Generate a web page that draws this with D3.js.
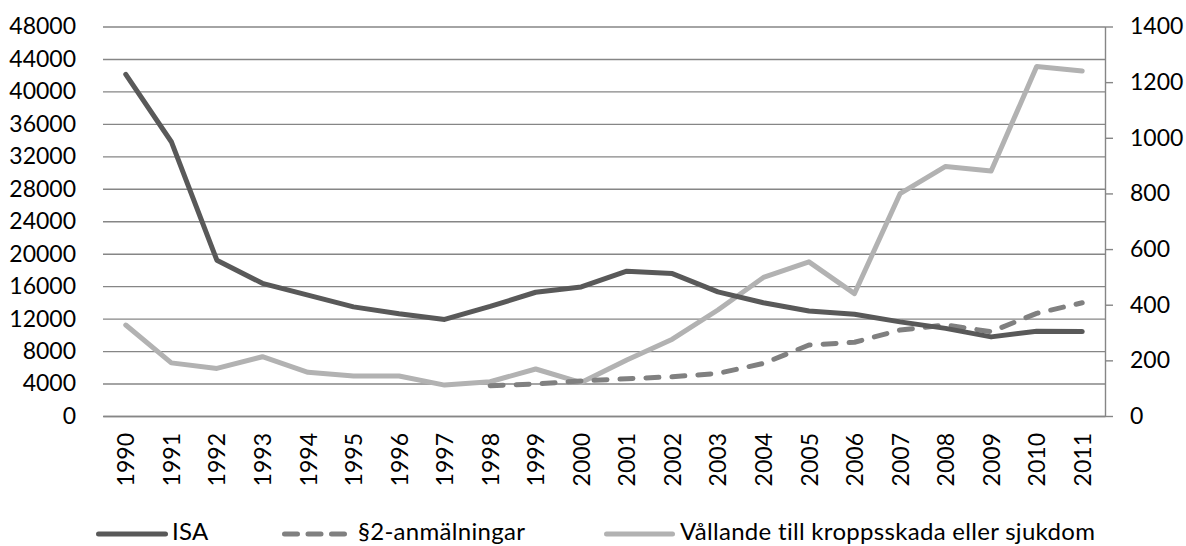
<!DOCTYPE html>
<html>
<head>
<meta charset="utf-8">
<script src="https://cdn.jsdelivr.net/npm/d3@7"></script>
<style>
  html, body { margin: 0; padding: 0; background: #fff; }
  svg { display: block; }
  text { font-family: Lato, "Open Sans", sans-serif; fill: #000; }
</style>
</head>
<body>
<svg id="chart" width="1186" height="546"></svg>
<script>
// ---- Data ----
const years = ["1990","1991","1992","1993","1994","1995","1996","1997","1998","1999","2000",
               "2001","2002","2003","2004","2005","2006","2007","2008","2009","2010","2011"];
const isa = [42100, 33800, 19200, 16350, 14900, 13450, 12600, 11900, 13500, 15250, 15900,
             17850, 17550, 15300, 13950, 12950, 12550, 11600, 10800, 9750, 10450, 10400];
const paragraf2 = [null, null, null, null, null, null, null, null, 109, 115, 126,
                   134, 141, 153, 189, 255, 265, 309, 327, 303, 369, 407];
const vallande = [327, 191, 171, 213, 157, 144, 144, 111, 123, 169, 120,
                  201, 276, 381, 498, 554, 440, 799, 897, 881, 1256, 1240];
const leftTicks = [0, 4000, 8000, 12000, 16000, 20000, 24000, 28000, 32000, 36000, 40000, 44000, 48000];
const rightTicks = [0, 200, 400, 600, 800, 1000, 1200, 1400];
const seriesNames = ["ISA", "§2-anmälningar", "Vållande till kroppsskada eller sjukdom"];

// ---- Layout ----
const L = 103, R = 1105, T = 26.5, B = 416;
const svg = d3.select("#chart");
const fontSize = 23;
const gridColor = "#868686";
const FONT = "Lato, 'Open Sans', sans-serif";

const x = d3.scalePoint().domain(years).range([L, R]).padding(0.5);
const yL = d3.scaleLinear().domain([0, 48000]).range([B, T]);
const yR = d3.scaleLinear().domain([0, 1400]).range([B, T]);

// gridlines
svg.append("g")
  .attr("transform", `translate(${L},0)`)
  .call(d3.axisLeft(yL).tickValues(leftTicks).tickSize(-(R - L)).tickFormat(""))
  .call(g => g.select(".domain").remove())
  .call(g => g.selectAll("line").attr("stroke", gridColor).attr("stroke-width", 1.4));

// left axis labels
svg.append("g")
  .attr("transform", `translate(${L},0)`)
  .call(d3.axisLeft(yL).tickValues(leftTicks).tickSize(0).tickPadding(27).tickFormat(d3.format("d")))
  .call(g => g.select(".domain").remove())
  .call(g => g.selectAll("text").attr("font-size", fontSize).attr("font-family", FONT).attr("fill", "#000"));

// right axis
svg.append("g")
  .attr("transform", `translate(${R},0)`)
  .call(d3.axisRight(yR).tickValues(rightTicks).tickSize(8).tickSizeOuter(0).tickPadding(17).tickFormat(d3.format("d")))
  .call(g => g.select(".domain").attr("stroke", gridColor).attr("stroke-width", 1.4))
  .call(g => g.selectAll("line").attr("stroke", gridColor).attr("stroke-width", 1.4))
  .call(g => g.selectAll("text").attr("font-size", fontSize).attr("font-family", FONT).attr("fill", "#000"));

// x axis
svg.append("g")
  .attr("transform", `translate(0,${B})`)
  .call(d3.axisBottom(x).tickSize(0).tickSizeOuter(0))
  .call(g => g.select(".domain").attr("stroke", gridColor).attr("stroke-width", 1.4))
  .call(g => g.selectAll("text")
    .attr("font-size", fontSize).attr("font-family", FONT).attr("fill", "#000")
    .attr("transform", "rotate(-90)")
    .attr("text-anchor", "end")
    .attr("x", -17).attr("y", 0).attr("dy", "0.35em"));

// lines
const lineL = d3.line().x((d, i) => x(years[i])).y(d => yL(d)).defined(d => d != null);
const lineR = d3.line().x((d, i) => x(years[i])).y(d => yR(d)).defined(d => d != null);

const styles = [
  { color: "#595959", dash: null },
  { color: "#808080", dash: "13 13" },
  { color: "#b2b2b2", dash: null }
];

svg.append("path").datum(vallande).attr("d", lineR)
  .attr("fill", "none").attr("stroke", styles[2].color).attr("stroke-width", 5)
  .attr("stroke-linejoin", "round").attr("stroke-linecap", "round");
svg.append("path").datum(paragraf2).attr("d", lineR)
  .attr("fill", "none").attr("stroke", styles[1].color).attr("stroke-width", 5)
  .attr("stroke-dasharray", styles[1].dash)
  .attr("stroke-linejoin", "round").attr("stroke-linecap", "round");
svg.append("path").datum(isa).attr("d", lineL)
  .attr("fill", "none").attr("stroke", styles[0].color).attr("stroke-width", 5)
  .attr("stroke-linejoin", "round").attr("stroke-linecap", "round");

// legend
const legendY = 532;
const legendItems = [
  { x0: 96, x1: 168, tx: 172 },
  { x0: 282, x1: 350, tx: 358 },
  { x0: 604, x1: 675, tx: 680 }
];
const lg = svg.append("g");
legendItems.forEach((it, i) => {
  lg.append("line")
    .attr("x1", it.x0 + 2.5).attr("x2", it.x1 - 2.5)
    .attr("y1", legendY + 2).attr("y2", legendY + 2)
    .attr("stroke", styles[i].color).attr("stroke-width", 5)
    .attr("stroke-linecap", "round")
    .attr("stroke-dasharray", i === 1 ? "13 10.5" : null);
  lg.append("text")
    .attr("x", it.tx).attr("y", legendY)
    .attr("dy", "0.35em")
    .attr("font-size", 24)
    .attr("letter-spacing", "0.3px")
    .text(seriesNames[i]);
});
</script>
</body>
</html>
